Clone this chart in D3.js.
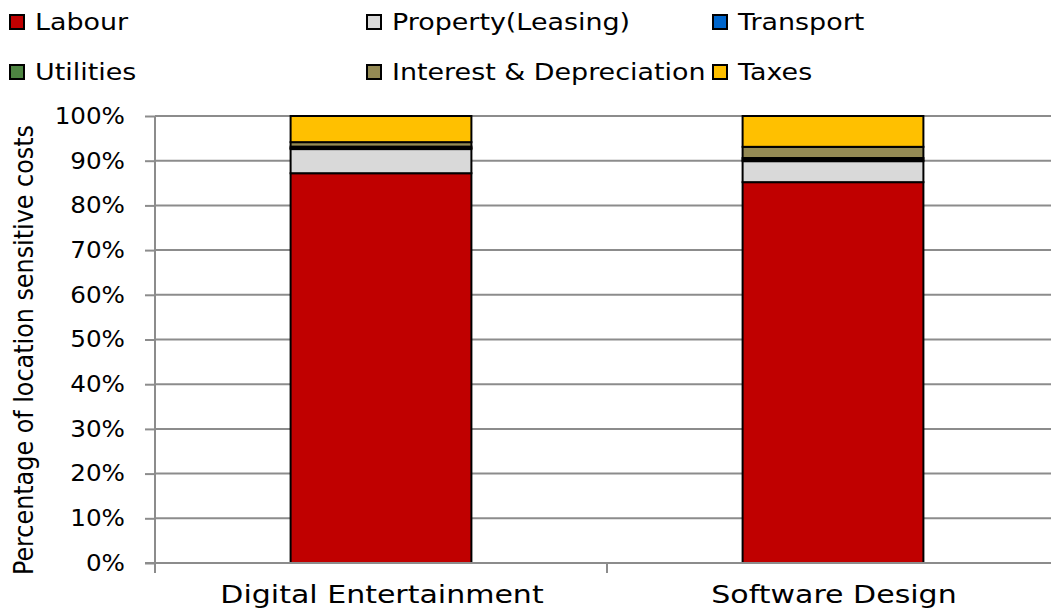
<!DOCTYPE html>
<html><head><meta charset="utf-8">
<script src="https://cdn.jsdelivr.net/npm/d3@7"></script>
<style>body{margin:0;background:#fff;} svg{display:block;}</style>
</head><body>
<svg id="chart" width="1051" height="612"></svg>
<script>
const categories = ["Digital Entertainment", "Software Design"];
const seriesNames = ["Labour", "Property(Leasing)", "Transport", "Utilities", "Interest & Depreciation", "Taxes"];
const labour = [87.2, 85.2];
const property = [5.4, 4.7];
const transport = [0.25, 0.3];
const utilities = [0.3, 0.4];
const interest = [1.0, 2.5];
const taxes = [5.85, 6.9];
const colors = ["#C00000", "#D9D9D9", "#0066CC", "#4E8542", "#948A54", "#FFC000"];
const yTicks = [0, 10, 20, 30, 40, 50, 60, 70, 80, 90, 100];

const seriesValues = [labour, property, transport, utilities, interest, taxes];
const rows = categories.map((c, i) => {
  const r = {cat: c};
  seriesNames.forEach((s, j) => r[s] = seriesValues[j][i]);
  return r;
});
const stacked = d3.stack().keys(seriesNames).offset(d3.stackOffsetExpand)(rows);

const svg = d3.select("#chart");
const x = d3.scaleBand().domain(categories).range([155, 1059]).paddingInner(0.6).paddingOuter(0.3);
const y = d3.scaleLinear().domain([0, 1]).range([563, 116]);
const color = d3.scaleOrdinal().domain(seriesNames).range(colors);
const tickFont = "'DejaVu Sans', Verdana, sans-serif";

// widen glyphs (Verdana-like) by stretching each text to a factor of its natural width
function widen(sel, factor) {
  sel.each(function () {
    const w = this.getComputedTextLength();
    d3.select(this).attr("textLength", w * factor).attr("lengthAdjust", "spacingAndGlyphs");
  });
}

// gridlines
svg.append("g").selectAll("line").data(yTicks.filter(t => t > 0)).join("line")
  .attr("x1", 155).attr("x2", 1051)
  .attr("y1", d => y(d / 100)).attr("y2", d => y(d / 100))
  .attr("stroke", "#8c8c8c").attr("stroke-width", 2);

// bars
svg.append("g").selectAll("g").data(stacked).join("g")
  .attr("fill", d => color(d.key))
  .selectAll("rect").data(d => d).join("rect")
  .attr("x", d => x(d.data.cat))
  .attr("width", x.bandwidth())
  .attr("y", d => y(d[1]))
  .attr("height", d => y(d[0]) - y(d[1]))
  .attr("stroke", "#000").attr("stroke-width", 2);

// y axis
const yAxis = svg.append("g").attr("transform", "translate(155,0)")
  .call(d3.axisLeft(y).tickValues(yTicks.map(t => t / 100)).tickFormat(d => Math.round(d * 100) + "%").tickSize(10).tickPadding(20));
yAxis.select(".domain").attr("stroke", "#8c8c8c").attr("stroke-width", 2).attr("d", "M0,116V563");
yAxis.selectAll(".tick line").attr("stroke", "#8c8c8c").attr("stroke-width", 2);
yAxis.selectAll(".tick text").attr("font-family", tickFont).attr("font-size", 23).attr("fill", "#000")
  .call(widen, 1.07);

// x axis
const xAxis = svg.append("g").attr("transform", "translate(0,563)");
xAxis.append("line").attr("x1", 145).attr("x2", 1051).attr("y1", 0).attr("y2", 0)
  .attr("stroke", "#8c8c8c").attr("stroke-width", 2);
const boundaries = [x.range()[0]]
  .concat(categories.slice(1).map(c => x(c) - x.step() * x.paddingInner() / 2));
xAxis.selectAll("line.tk").data(boundaries).join("line").attr("class", "tk")
  .attr("x1", d => d).attr("x2", d => d).attr("y1", 0).attr("y2", 10)
  .attr("stroke", "#8c8c8c").attr("stroke-width", 2);
xAxis.selectAll("text").data(categories).join("text")
  .attr("x", d => x(d) + x.bandwidth() / 2 + 1).attr("y", 40)
  .attr("text-anchor", "middle").attr("font-family", tickFont).attr("font-size", 25).attr("fill", "#000")
  .text(d => d)
  .call(widen, 1.2);

// y title
svg.append("text")
  .attr("transform", "translate(33,350) rotate(-90)")
  .attr("text-anchor", "middle")
  .attr("font-family", "'Liberation Sans Narrow', 'DejaVu Sans Condensed', 'Liberation Sans', sans-serif")
  .attr("font-size", 26)
  .attr("textLength", 450).attr("lengthAdjust", "spacingAndGlyphs")
  .attr("fill", "#000")
  .text("Percentage of location sensitive costs");

// legend
const legendCols = [10, 367, 713];
const legendRows = [22, 72];
const lg = svg.append("g").selectAll("g").data(seriesNames).join("g")
  .attr("transform", (d, i) => `translate(${legendCols[i % 3]},${legendRows[Math.floor(i / 3)]})`);
lg.append("rect").attr("x", 0).attr("y", -7).attr("width", 14).attr("height", 14)
  .attr("fill", d => color(d)).attr("stroke", "#000").attr("stroke-width", 2);
lg.append("text").attr("x", 25).attr("y", 0).attr("dy", "0.35em")
  .attr("font-family", tickFont).attr("font-size", 23).attr("fill", "#000")
  .text(d => d)
  .call(widen, 1.17);
</script>
</body></html>
